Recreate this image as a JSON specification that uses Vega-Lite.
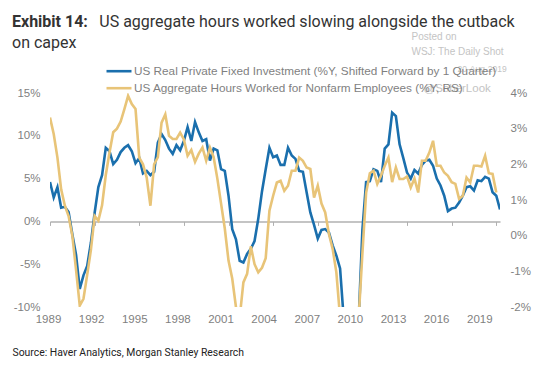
{
  "$schema": "https://vega.github.io/schema/vega-lite/v6.json",
  "width": 450,
  "height": 214,
  "autosize": {"type": "none"},
  "padding": {"left": 50, "top": 93, "right": 41, "bottom": 62},
  "background": "white",
  "title": {
    "text": "Exhibit 14:",
    "subtitle": ["\u200b\u00a0\u00a0\u00a0\u00a0\u00a0\u00a0\u00a0\u00a0\u00a0\u00a0\u00a0\u00a0\u00a0\u00a0\u00a0\u00a0\u00a0\u00a0\u00a0\u00a0\u00a0\u00a0US aggregate hours worked slowing alongside the cutback", "on capex"],
    "anchor": "start",
    "frame": "group",
    "dx": -38,
    "offset": -20,
    "font": "Roboto",
    "fontSize": 16,
    "fontWeight": "bold",
    "color": "#333333",
    "subtitleFont": "Roboto",
    "subtitleFontSize": 16,
    "subtitleFontWeight": "normal",
    "subtitleColor": "#333333",
    "subtitlePadding": -16,
    "subtitleLineHeight": 21
  },
  "data": {"values": [
    {"t": 1989.00, "inv": 4.6, "hrs": 3.31},
    {"t": 1989.25, "inv": 2.8, "hrs": 2.85},
    {"t": 1989.50, "inv": 4.0, "hrs": 2.19},
    {"t": 1989.75, "inv": 1.6, "hrs": 1.3},
    {"t": 1990.00, "inv": 1.7, "hrs": 0.84},
    {"t": 1990.25, "inv": 1.1, "hrs": 0.55},
    {"t": 1990.50, "inv": -1.5, "hrs": 0.0},
    {"t": 1990.75, "inv": -3.9, "hrs": -0.95},
    {"t": 1991.00, "inv": -7.9, "hrs": -1.96},
    {"t": 1991.25, "inv": -6.3, "hrs": -1.77},
    {"t": 1991.50, "inv": -5.2, "hrs": -1.1},
    {"t": 1991.75, "inv": -2.5, "hrs": -0.4},
    {"t": 1992.00, "inv": 1.0, "hrs": 0.55},
    {"t": 1992.25, "inv": 4.0, "hrs": 0.42},
    {"t": 1992.50, "inv": 5.4, "hrs": 0.85},
    {"t": 1992.75, "inv": 8.6, "hrs": 1.7},
    {"t": 1993.00, "inv": 8.2, "hrs": 2.33},
    {"t": 1993.25, "inv": 6.7, "hrs": 2.9},
    {"t": 1993.50, "inv": 7.2, "hrs": 3.0},
    {"t": 1993.75, "inv": 8.1, "hrs": 3.2},
    {"t": 1994.00, "inv": 8.6, "hrs": 3.55},
    {"t": 1994.25, "inv": 8.9, "hrs": 3.92},
    {"t": 1994.50, "inv": 8.2, "hrs": 3.69},
    {"t": 1994.75, "inv": 6.8, "hrs": 3.55},
    {"t": 1995.00, "inv": 7.4, "hrs": 2.19},
    {"t": 1995.25, "inv": 5.6, "hrs": 2.0},
    {"t": 1995.50, "inv": 5.9, "hrs": 1.63},
    {"t": 1995.75, "inv": 5.4, "hrs": 0.84},
    {"t": 1996.00, "inv": 5.8, "hrs": 2.0},
    {"t": 1996.25, "inv": 9.2, "hrs": 2.2},
    {"t": 1996.50, "inv": 10.2, "hrs": 3.17},
    {"t": 1996.75, "inv": 9.5, "hrs": 3.4},
    {"t": 1997.00, "inv": 8.5, "hrs": 2.8},
    {"t": 1997.25, "inv": 7.9, "hrs": 2.71},
    {"t": 1997.50, "inv": 8.9, "hrs": 2.71},
    {"t": 1997.75, "inv": 8.3, "hrs": 2.89},
    {"t": 1998.00, "inv": 9.4, "hrs": 2.7},
    {"t": 1998.25, "inv": 11.0, "hrs": 2.24},
    {"t": 1998.50, "inv": 9.4, "hrs": 2.4},
    {"t": 1998.75, "inv": 11.6, "hrs": 2.07},
    {"t": 1999.00, "inv": 10.4, "hrs": 2.3},
    {"t": 1999.25, "inv": 9.4, "hrs": 2.47},
    {"t": 1999.50, "inv": 9.6, "hrs": 2.1},
    {"t": 1999.75, "inv": 7.1, "hrs": 2.47},
    {"t": 2000.00, "inv": 8.5, "hrs": 2.2},
    {"t": 2000.25, "inv": 8.3, "hrs": 1.6},
    {"t": 2000.50, "inv": 6.1, "hrs": 0.9},
    {"t": 2000.75, "inv": 5.9, "hrs": 0.2},
    {"t": 2001.00, "inv": 3.0, "hrs": -0.7},
    {"t": 2001.25, "inv": -0.9, "hrs": -1.2},
    {"t": 2001.50, "inv": -2.1, "hrs": -2.0},
    {"t": 2001.75, "inv": -4.6, "hrs": -2.3},
    {"t": 2002.00, "inv": -4.8, "hrs": -1.31},
    {"t": 2002.25, "inv": -3.8, "hrs": -1.07},
    {"t": 2002.50, "inv": -3.2, "hrs": -0.3},
    {"t": 2002.75, "inv": -2.3, "hrs": -0.8},
    {"t": 2003.00, "inv": 0.3, "hrs": -1.03},
    {"t": 2003.25, "inv": 3.5, "hrs": -0.9},
    {"t": 2003.50, "inv": 6.1, "hrs": -0.63},
    {"t": 2003.75, "inv": 8.6, "hrs": 0.7},
    {"t": 2004.00, "inv": 7.5, "hrs": 1.12},
    {"t": 2004.25, "inv": 7.7, "hrs": 1.49},
    {"t": 2004.50, "inv": 6.6, "hrs": 1.54},
    {"t": 2004.75, "inv": 6.6, "hrs": 1.26},
    {"t": 2005.00, "inv": 8.6, "hrs": 1.4},
    {"t": 2005.25, "inv": 7.7, "hrs": 1.82},
    {"t": 2005.50, "inv": 7.3, "hrs": 1.82},
    {"t": 2005.75, "inv": 5.9, "hrs": 2.19},
    {"t": 2006.00, "inv": 5.8, "hrs": 2.1},
    {"t": 2006.25, "inv": 3.4, "hrs": 1.91},
    {"t": 2006.50, "inv": 1.05, "hrs": 1.87},
    {"t": 2006.75, "inv": -0.4, "hrs": 1.07},
    {"t": 2007.00, "inv": -2.0, "hrs": 1.4},
    {"t": 2007.25, "inv": -1.0, "hrs": 0.9},
    {"t": 2007.50, "inv": -0.9, "hrs": 0.65},
    {"t": 2007.75, "inv": -1.3, "hrs": 0.05},
    {"t": 2008.00, "inv": -2.8, "hrs": -0.37},
    {"t": 2008.25, "inv": -4.0, "hrs": -1.03},
    {"t": 2008.50, "inv": -5.5, "hrs": -2.3},
    {"t": 2008.75, "inv": -11.5, "hrs": -3.5},
    {"t": 2009.00, "inv": -17.0, "hrs": -5.5},
    {"t": 2009.25, "inv": -19.5, "hrs": -7.0},
    {"t": 2009.50, "inv": -18.0, "hrs": -5.0},
    {"t": 2009.75, "inv": -11.5, "hrs": -2.3},
    {"t": 2010.00, "inv": -1.0, "hrs": -0.5},
    {"t": 2010.25, "inv": 4.6, "hrs": 1.2},
    {"t": 2010.50, "inv": 4.7, "hrs": 1.75},
    {"t": 2010.75, "inv": 6.1, "hrs": 1.82},
    {"t": 2011.00, "inv": 5.9, "hrs": 1.45},
    {"t": 2011.25, "inv": 4.6, "hrs": 1.68},
    {"t": 2011.50, "inv": 8.5, "hrs": 1.96},
    {"t": 2011.75, "inv": 9.0, "hrs": 2.19},
    {"t": 2012.00, "inv": 12.7, "hrs": 1.5},
    {"t": 2012.25, "inv": 12.3, "hrs": 1.91},
    {"t": 2012.50, "inv": 9.0, "hrs": 1.59},
    {"t": 2012.75, "inv": 7.4, "hrs": 1.59},
    {"t": 2013.00, "inv": 5.7, "hrs": 1.66},
    {"t": 2013.25, "inv": 5.0, "hrs": 1.35},
    {"t": 2013.50, "inv": 6.0, "hrs": 1.6},
    {"t": 2013.75, "inv": 5.6, "hrs": 1.21},
    {"t": 2014.00, "inv": 6.6, "hrs": 2.1},
    {"t": 2014.25, "inv": 7.1, "hrs": 2.1},
    {"t": 2014.50, "inv": 7.2, "hrs": 2.33},
    {"t": 2014.75, "inv": 6.5, "hrs": 2.66},
    {"t": 2015.00, "inv": 5.0, "hrs": 1.96},
    {"t": 2015.25, "inv": 4.2, "hrs": 1.96},
    {"t": 2015.50, "inv": 3.0, "hrs": 1.77},
    {"t": 2015.75, "inv": 1.2, "hrs": 1.68},
    {"t": 2016.00, "inv": 1.5, "hrs": 1.5},
    {"t": 2016.25, "inv": 1.6, "hrs": 1.45},
    {"t": 2016.50, "inv": 2.2, "hrs": 1.03},
    {"t": 2016.75, "inv": 3.0, "hrs": 1.12},
    {"t": 2017.00, "inv": 4.0, "hrs": 1.63},
    {"t": 2017.25, "inv": 4.1, "hrs": 1.49},
    {"t": 2017.50, "inv": 3.6, "hrs": 1.96},
    {"t": 2017.75, "inv": 4.8, "hrs": 1.96},
    {"t": 2018.00, "inv": 4.7, "hrs": 1.94},
    {"t": 2018.25, "inv": 5.2, "hrs": 2.24},
    {"t": 2018.50, "inv": 5.0, "hrs": 1.75},
    {"t": 2018.75, "inv": 3.4, "hrs": 1.73},
    {"t": 2019.00, "inv": 3.0, "hrs": 1.21},
    {"t": 2019.25, "inv": 1.4, "hrs": null}
  ]},
  "layer": [
    {
      "mark": {"type": "line", "clip": true, "strokeWidth": 2.6},
      "encoding": {
        "x": {
          "field": "t", "type": "quantitative",
          "scale": {"domain": [1989, 2019.25], "nice": false, "zero": false},
          "axis": {
            "values": [1989, 1992, 1995, 1998, 2001, 2004, 2007, 2010, 2013, 2016, 2019],
            "format": "d", "domain": false, "ticks": false, "grid": false, "labelFlush": false,
            "labelOffset": {"expr": "-2 - (datum.value - 1989) * 0.5"},
            "labelFont": "Liberation Sans", "labelFontSize": 11.5, "labelColor": "#7f7f7f", "labelPadding": 6,
            "title": "Source: Haver Analytics, Morgan Stanley Research",
            "titleFont": "Roboto", "titleFontSize": 10.4, "titleFontWeight": "normal", "titleColor": "#222222",
            "titleAnchor": "start", "titleAlign": "left", "titleBaseline": "alphabetic", "titleX": -38, "titleY": 48
          }
        },
        "y": {
          "field": "inv", "type": "quantitative",
          "scale": {"domain": [-10, 15], "nice": false, "zero": false},
          "axis": {
            "orient": "left", "values": [-10, -5, 0, 5, 10, 15], "labelExpr": "datum.value + '%'",
            "domain": false, "ticks": false, "grid": false, "labelPadding": 10,
            "labelFont": "Liberation Sans", "labelFontSize": 11.5, "labelColor": "#7f7f7f",
            "title": "@SoberLook", "titleAngle": 0, "titleX": 373, "titleY": -2,
            "titleAlign": "left", "titleBaseline": "alphabetic",
            "titleFont": "Liberation Sans", "titleFontSize": 11.5, "titleFontWeight": "normal", "titleColor": "#c4c4c4"
          }
        },
        "color": {
          "datum": "US Real Private Fixed Investment (%Y, Shifted Forward by 1 Quarter)",
          "type": "nominal",
          "scale": {
            "domain": ["US Real Private Fixed Investment (%Y, Shifted Forward by 1 Quarter)", "US Aggregate Hours Worked for Nonfarm Employees (%Y, RS)"],
            "range": ["#1a6fad", "#e8c478"]
          },
          "legend": {
            "orient": "none", "legendX": 62.5, "legendY": -28.3, "direction": "vertical", "title": null,
            "symbolType": "M-2.5,0H2.5", "symbolSize": 100, "symbolStrokeWidth": 2.6,
            "labelFont": "Liberation Sans", "labelFontSize": 11.75, "labelColor": "#7f7f7f", "labelOffset": 8.5, "labelLimit": 500,
            "rowPadding": 3
          }
        }
      }
    },
    {
      "mark": {"type": "line", "clip": true, "strokeWidth": 2.6},
      "encoding": {
        "x": {
          "field": "t", "type": "quantitative",
          "axis": {
            "orient": "bottom", "offset": -85.6,
            "values": [1989, 1992, 1995, 1998, 2001, 2004, 2007, 2010, 2013, 2016, 2019],
            "labels": false, "domain": true, "domainColor": "#b0b0b0", "domainWidth": 1.5,
            "ticks": true, "tickColor": "#b0b0b0", "tickSize": 4, "tickWidth": 1, "grid": false,
            "title": ["Posted on", "WSJ: The Daily Shot"], "titleX": 361, "titleY": -182.4,
            "titleAlign": "left", "titleBaseline": "alphabetic", "titleLineHeight": 15,
            "titleFont": "Liberation Sans", "titleFontSize": 10, "titleFontWeight": "normal", "titleColor": "#c4c4c4"
          }
        },
        "y": {
          "field": "hrs", "type": "quantitative",
          "scale": {"domain": [-2, 4], "nice": false, "zero": false},
          "axis": {
            "orient": "right", "values": [-2, -1, 0, 1, 2, 3, 4], "labelExpr": "datum.value + '%'",
            "domain": false, "ticks": false, "grid": false, "labelPadding": 10,
            "labelFont": "Liberation Sans", "labelFontSize": 11.5, "labelColor": "#7f7f7f",
            "title": "20-Aug-2019", "titleAngle": 0, "titleX": -43, "titleY": -22,
            "titleAlign": "left", "titleBaseline": "alphabetic",
            "titleFont": "Liberation Sans", "titleFontSize": 8.5, "titleFontWeight": "normal", "titleColor": "#c4c4c4"
          }
        },
        "color": {"datum": "US Aggregate Hours Worked for Nonfarm Employees (%Y, RS)", "type": "nominal"}
      }
    }
  ],
  "resolve": {"scale": {"y": "independent"}, "axis": {"x": "independent"}},
  "config": {"view": {"stroke": null}}
}
